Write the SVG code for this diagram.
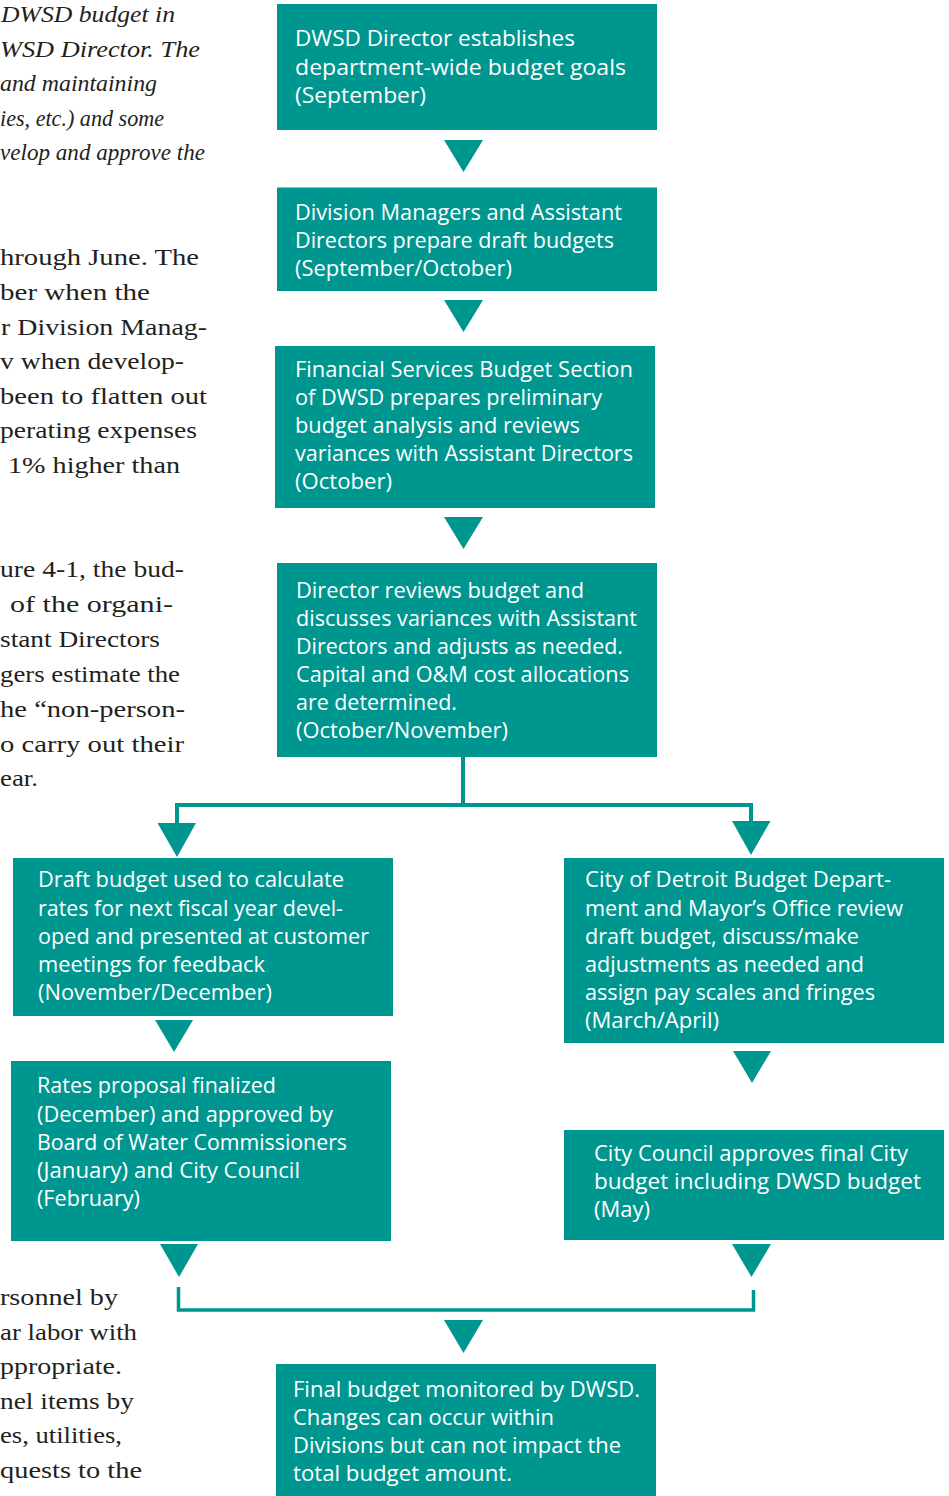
<svg xmlns="http://www.w3.org/2000/svg" width="949" height="1496" viewBox="0 0 949 1496">
<style>
.box{fill:#009690}
.t{font-family:"Open Sans","Noto Sans","DejaVu Sans",sans-serif;font-size:22px;fill:#ffffff}
.b{font-family:"Liberation Serif","DejaVu Serif",serif;font-size:23px;fill:#231f20}
.i{font-style:italic}
.ln{fill:none;stroke:#009690;stroke-width:4}
.ar{fill:#009690}
</style>
<rect width="949" height="1496" fill="#ffffff"/>

<g id="body-text">
<text class="b i" x="1" y="22" textLength="174" lengthAdjust="spacingAndGlyphs">DWSD budget in</text>
<text class="b i" x="0" y="56.5" textLength="200" lengthAdjust="spacingAndGlyphs">WSD Director. The</text>
<text class="b i" x="0" y="91" textLength="157" lengthAdjust="spacingAndGlyphs">and maintaining</text>
<text class="b i" x="0" y="125.5" textLength="164" lengthAdjust="spacingAndGlyphs">ies, etc.) and some</text>
<text class="b i" x="0" y="160" textLength="205" lengthAdjust="spacingAndGlyphs">velop and approve the</text>

<text class="b" x="0" y="265" textLength="199" lengthAdjust="spacingAndGlyphs">hrough June. The</text>
<text class="b" x="0" y="300" textLength="150" lengthAdjust="spacingAndGlyphs">ber when the</text>
<text class="b" x="1" y="335" textLength="206" lengthAdjust="spacingAndGlyphs">r Division Manag-</text>
<text class="b" x="0" y="369" textLength="184" lengthAdjust="spacingAndGlyphs">v when develop-</text>
<text class="b" x="0" y="404" textLength="207" lengthAdjust="spacingAndGlyphs">been to flatten out</text>
<text class="b" x="0" y="438" textLength="197" lengthAdjust="spacingAndGlyphs">perating expenses</text>
<text class="b" x="8" y="473" textLength="172" lengthAdjust="spacingAndGlyphs">1% higher than</text>

<text class="b" x="0" y="577" textLength="184" lengthAdjust="spacingAndGlyphs">ure 4-1, the bud-</text>
<text class="b" x="10" y="612" textLength="163" lengthAdjust="spacingAndGlyphs">of the organi-</text>
<text class="b" x="0" y="647" textLength="160" lengthAdjust="spacingAndGlyphs">stant Directors</text>
<text class="b" x="0" y="682" textLength="180" lengthAdjust="spacingAndGlyphs">gers estimate the</text>
<text class="b" x="0" y="717" textLength="185" lengthAdjust="spacingAndGlyphs">he “non-person-</text>
<text class="b" x="0" y="752" textLength="184" lengthAdjust="spacingAndGlyphs">o carry out their</text>
<text class="b" x="0" y="786" textLength="38" lengthAdjust="spacingAndGlyphs">ear.</text>

<text class="b" x="0" y="1305" textLength="118" lengthAdjust="spacingAndGlyphs">rsonnel by</text>
<text class="b" x="0" y="1340" textLength="137" lengthAdjust="spacingAndGlyphs">ar labor with</text>
<text class="b" x="0" y="1374" textLength="122" lengthAdjust="spacingAndGlyphs">ppropriate.</text>
<text class="b" x="0" y="1409" textLength="134" lengthAdjust="spacingAndGlyphs">nel items by</text>
<text class="b" x="0" y="1443" textLength="122" lengthAdjust="spacingAndGlyphs">es, utilities,</text>
<text class="b" x="0" y="1478" textLength="142" lengthAdjust="spacingAndGlyphs">quests to the</text>
</g>

<g id="connectors">
<polygon class="ar" points="444,140 483,140 463.5,172"/>
<polygon class="ar" points="444,300 483,300 463.5,332"/>
<polygon class="ar" points="444,517 483,517 463.5,549"/>
<polyline class="ln" points="463,757 463,805"/>
<polyline class="ln" points="177,824 177,805 751,805 751,822"/>
<polygon class="ar" points="157.5,823 196,823 177,857"/>
<polygon class="ar" points="732,821 770.5,821 751,855"/>
<polygon class="ar" points="155,1020 193,1020 174,1052"/>
<polygon class="ar" points="733,1051 771,1051 752,1083"/>
<polygon class="ar" points="160,1244 198,1244 179,1277"/>
<polygon class="ar" points="732,1244 771,1244 751.5,1277"/>
<polyline class="ln" points="178.5,1287 178.5,1310 753.5,1310 753.5,1290" style="stroke-width:3.5"/>
<polygon class="ar" points="444,1320 483,1320 463.5,1353"/>
</g>

<g id="n1">
<rect class="box" x="277" y="4" width="380" height="126"/>
<text class="t" x="295" y="46" textLength="280" lengthAdjust="spacingAndGlyphs">DWSD Director establishes</text>
<text class="t" x="295" y="74.5" textLength="331" lengthAdjust="spacingAndGlyphs">department-wide budget goals</text>
<text class="t" x="295" y="103" textLength="131" lengthAdjust="spacingAndGlyphs">(September)</text>
</g>

<g id="n2">
<rect class="box" x="277" y="187.5" width="380" height="103.5"/>
<text class="t" x="295" y="220" textLength="327" lengthAdjust="spacingAndGlyphs">Division Managers and Assistant</text>
<text class="t" x="295" y="248" textLength="319" lengthAdjust="spacingAndGlyphs">Directors prepare draft budgets</text>
<text class="t" x="295" y="276" textLength="217" lengthAdjust="spacingAndGlyphs">(September/October)</text>
</g>

<g id="n3">
<rect class="box" x="275" y="346" width="380" height="162"/>
<text class="t" x="295" y="377" textLength="338" lengthAdjust="spacingAndGlyphs">Financial Services Budget Section</text>
<text class="t" x="295" y="405" textLength="307" lengthAdjust="spacingAndGlyphs">of DWSD prepares preliminary</text>
<text class="t" x="295" y="433" textLength="285" lengthAdjust="spacingAndGlyphs">budget analysis and reviews</text>
<text class="t" x="295" y="461" textLength="338" lengthAdjust="spacingAndGlyphs">variances with Assistant Directors</text>
<text class="t" x="295" y="489" textLength="97" lengthAdjust="spacingAndGlyphs">(October)</text>
</g>

<g id="n4">
<rect class="box" x="277" y="563" width="380" height="194"/>
<text class="t" x="296" y="598" textLength="288" lengthAdjust="spacingAndGlyphs">Director reviews budget and</text>
<text class="t" x="296" y="626" textLength="341" lengthAdjust="spacingAndGlyphs">discusses variances with Assistant</text>
<text class="t" x="296" y="654" textLength="327" lengthAdjust="spacingAndGlyphs">Directors and adjusts as needed.</text>
<text class="t" x="296" y="682" textLength="333" lengthAdjust="spacingAndGlyphs">Capital and O&amp;M cost allocations</text>
<text class="t" x="296" y="710" textLength="161" lengthAdjust="spacingAndGlyphs">are determined.</text>
<text class="t" x="296" y="738" textLength="212" lengthAdjust="spacingAndGlyphs">(October/November)</text>
</g>

<g id="n5">
<rect class="box" x="13" y="858" width="380" height="158"/>
<text class="t" x="38" y="887" textLength="306" lengthAdjust="spacingAndGlyphs">Draft budget used to calculate</text>
<text class="t" x="38" y="916" textLength="305" lengthAdjust="spacingAndGlyphs">rates for next fiscal year devel-</text>
<text class="t" x="38" y="944" textLength="331" lengthAdjust="spacingAndGlyphs">oped and presented at customer</text>
<text class="t" x="38" y="972" textLength="227" lengthAdjust="spacingAndGlyphs">meetings for feedback</text>
<text class="t" x="38" y="1000" textLength="234" lengthAdjust="spacingAndGlyphs">(November/December)</text>
</g>

<g id="n6">
<rect class="box" x="11" y="1061" width="380" height="180"/>
<text class="t" x="37" y="1093" textLength="239" lengthAdjust="spacingAndGlyphs">Rates proposal finalized</text>
<text class="t" x="37" y="1122" textLength="296" lengthAdjust="spacingAndGlyphs">(December) and approved by</text>
<text class="t" x="37" y="1150" textLength="310" lengthAdjust="spacingAndGlyphs">Board of Water Commissioners</text>
<text class="t" x="37" y="1178" textLength="263" lengthAdjust="spacingAndGlyphs">(January) and City Council</text>
<text class="t" x="37" y="1206" textLength="103" lengthAdjust="spacingAndGlyphs">(February)</text>
</g>

<g id="n7">
<rect class="box" x="564" y="858" width="380" height="185"/>
<text class="t" x="585" y="887" textLength="306" lengthAdjust="spacingAndGlyphs">City of Detroit Budget Depart-</text>
<text class="t" x="585" y="916" textLength="318" lengthAdjust="spacingAndGlyphs">ment and Mayor’s Office review</text>
<text class="t" x="585" y="944" textLength="274" lengthAdjust="spacingAndGlyphs">draft budget, discuss/make</text>
<text class="t" x="585" y="972" textLength="279" lengthAdjust="spacingAndGlyphs">adjustments as needed and</text>
<text class="t" x="585" y="1000" textLength="290" lengthAdjust="spacingAndGlyphs">assign pay scales and fringes</text>
<text class="t" x="585" y="1028" textLength="134" lengthAdjust="spacingAndGlyphs">(March/April)</text>
</g>

<g id="n8">
<rect class="box" x="564" y="1130" width="380" height="110"/>
<text class="t" x="594" y="1161" textLength="314" lengthAdjust="spacingAndGlyphs">City Council approves final City</text>
<text class="t" x="594" y="1189" textLength="327" lengthAdjust="spacingAndGlyphs">budget including DWSD budget</text>
<text class="t" x="594" y="1217" textLength="56" lengthAdjust="spacingAndGlyphs">(May)</text>
</g>

<g id="n9">
<rect class="box" x="276" y="1364" width="380" height="140"/>
<text class="t" x="293" y="1397" textLength="347" lengthAdjust="spacingAndGlyphs">Final budget monitored by DWSD.</text>
<text class="t" x="293" y="1425" textLength="261" lengthAdjust="spacingAndGlyphs">Changes can occur within</text>
<text class="t" x="293" y="1453" textLength="328" lengthAdjust="spacingAndGlyphs">Divisions but can not impact the</text>
<text class="t" x="293" y="1481" textLength="219" lengthAdjust="spacingAndGlyphs">total budget amount.</text>
</g>
</svg>
